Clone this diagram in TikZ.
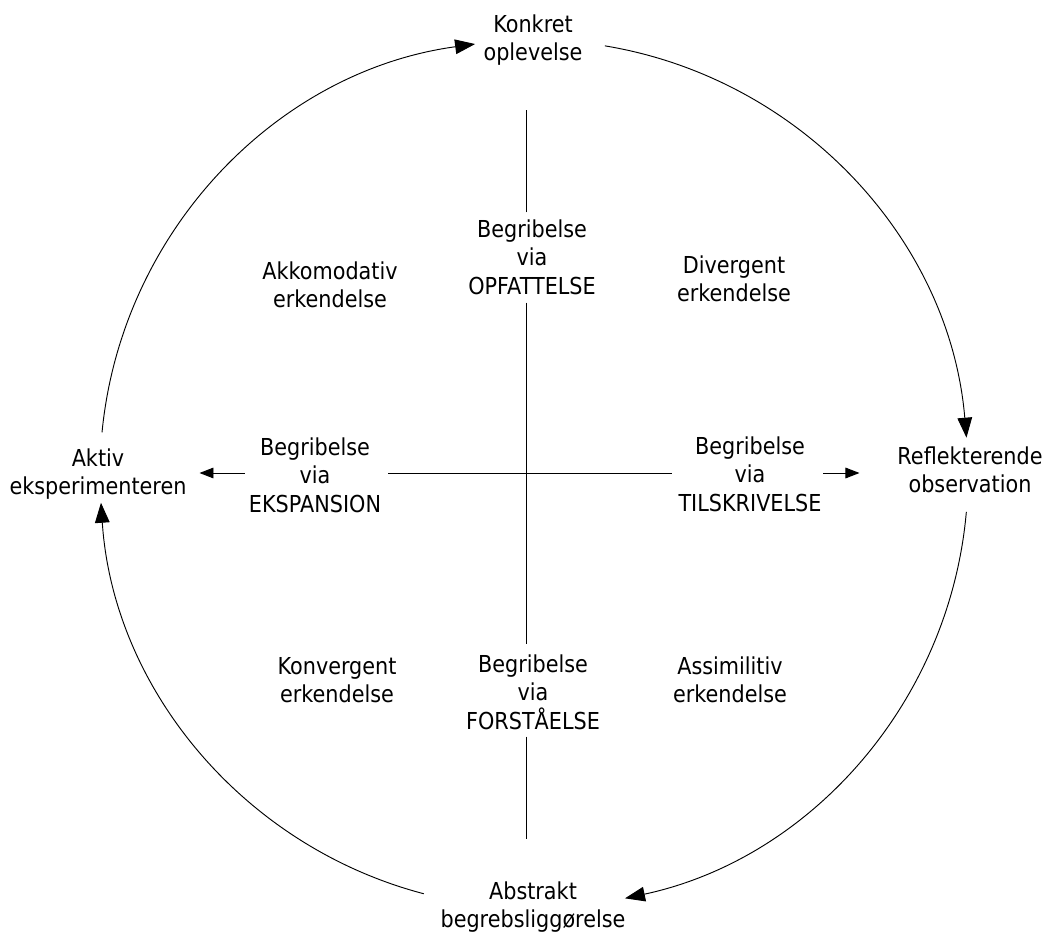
\documentclass[tikz,border=0pt]{standalone}
\usepackage{fontspec}
\setmainfont{DejaVu Sans}[FakeStretch=0.89]
\usetikzlibrary{arrows.meta}

\begin{document}
\begin{tikzpicture}[x=0.75pt,y=-0.75pt,line width=0.7pt,
    lbl/.style={inner sep=0pt,outer sep=0pt,align=center,
      font=\fontsize{17.5pt}{21.4pt}\selectfont},
    bigtip/.style={-{Triangle[length=15pt,width=11pt]}},
    smalltip/.style={-{Triangle[length=10.5pt,width=8pt]}}]
            \useasboundingbox (0,0) rectangle (1047,934);
            % centre of the cycle and of the cross
            \coordinate (m) at (534,474);
            \coordinate (c) at (526,473);
            % four phases of the cycle
            \node[lbl] (konkret) at (533,40) {Konkret\\oplevelse};
            \node[lbl] (reflekt) at (970,470) {Reflekterende\\observation};
            \node[lbl] (abstrakt) at (533,907) {Abstrakt\\begrebsligg\o relse};
            \node[lbl] (aktiv) at (98,474) {Aktiv\\eksperimenteren};
            % four ways of grasping
            \node[lbl] (opfattelse) at (532,257) {Begribelse\\via\\OPFATTELSE};
            \node[lbl] (forstaaelse) at (533,692) {Begribelse\\via\\FORST\AA ELSE};
            \node[lbl] (ekspansion) at (315,475) {Begribelse\\via\\EKSPANSION};
            \node[lbl] (tilskrivelse) at (750,474) {Begribelse\\via\\TILSKRIVELSE};
            % four kinds of knowing
            \node[lbl] (akkomodativ) at (330,285) {Akkomodativ\\erkendelse};
            \node[lbl] (divergent) at (734,279) {Divergent\\erkendelse};
            \node[lbl] (konvergent) at (337,680) {Konvergent\\erkendelse};
            \node[lbl] (assimilitiv) at (730,680) {Assimilitiv\\erkendelse};
            % cycle arcs, clockwise
            \draw[bigtip] ([shift={(185.5:434)}]m) arc (185.5:262.2:434);
            \draw[bigtip] ([shift={(279.4:434)}]m) arc (279.4:355.2:434);
            \draw[bigtip] ([shift={(5.0:434)}]m) arc (5.0:77.9:434);
            \draw[bigtip] ([shift={(104.7:434)}]m) arc (104.7:176.2:434);
            % vertical axis
            \draw[shorten <=5.25pt,shorten >=33pt] (opfattelse.north -| c) -- (konkret.south -| c);
            \draw[shorten <=6pt,shorten >=7.5pt] (opfattelse.south -| c) -- (forstaaelse.north -| c);
            \draw[shorten <=5.25pt,shorten >=31.5pt] (forstaaelse.south -| c) -- (abstrakt.north -| c);
            % horizontal axis
            \draw[shorten <=5.25pt,shorten >=5.25pt] (ekspansion.east |- c) -- (tilskrivelse.west |- c);
            \draw[smalltip,shorten <=3pt,shorten >=9.75pt] (ekspansion.west |- c) -- (aktiv.east |- c);
            \draw[smalltip,shorten <=1.5pt,shorten >=28.5pt] (tilskrivelse.east |- c) -- (reflekt.west |- c);
          \end{tikzpicture}
\end{document}
